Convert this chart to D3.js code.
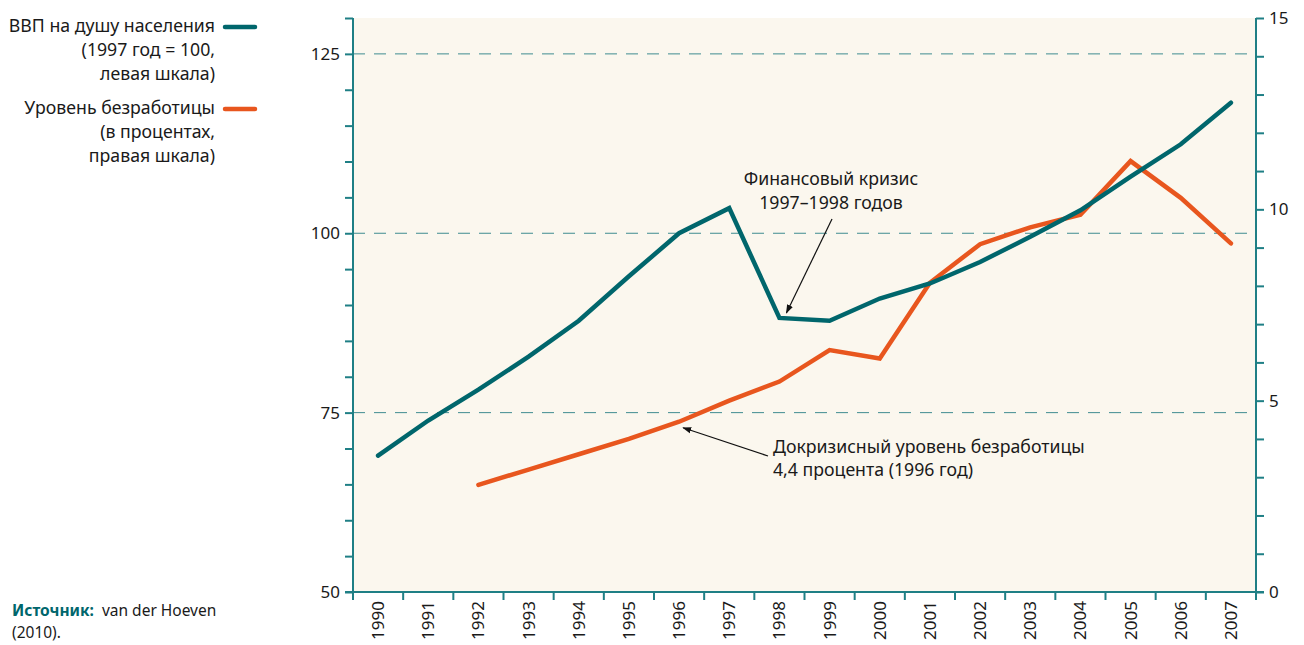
<!DOCTYPE html>
<html><head><meta charset="utf-8">
<script src="https://cdn.jsdelivr.net/npm/d3@7"></script>
<style>
body{margin:0;background:#fff;}
svg text{font-family:"Noto Sans",sans-serif;fill:#1a1a1a;}
</style></head>
<body><svg id="c" width="1304" height="645"></svg>
<script>
const years = [1990,1991,1992,1993,1994,1995,1996,1997,1998,1999,2000,2001,2002,2003,2004,2005,2006,2007];
const gdpPerCapita = [69.0,73.9,78.2,82.8,87.8,94.0,100.0,103.5,88.2,87.8,90.9,93.0,96.0,99.5,103.2,107.9,112.4,118.2];
const unemployment = [null,null,2.80,3.20,3.60,4.00,4.45,5.00,5.50,6.32,6.10,8.08,9.09,9.53,9.86,11.26,10.30,9.11];
const leftTicks = [50,75,100,125];
const rightTicks = [0,5,10,15];
const gridValues = [75,100,125];
const legendGdp = ["ВВП на душу населения","(1997 год = 100,","левая шкала)"];
const legendUnemp = ["Уровень безработицы","(в процентах,","правая шкала)"];
const noteCrisis = ["Финансовый кризис","1997–1998 годов"];
const notePre = ["Докризисный уровень безработицы","4,4 процента (1996 год)"];

const TEAL="#00666c", ORANGE="#e8561e", AX="#1f7f85";
const FS=17.7, TFS=17;
const svg=d3.select("#c");
const L=353,R=1256,T=18,B=592;
const x=d3.scaleBand().domain(years).range([L,R]);
const yL=d3.scaleLinear().domain([50,130]).range([B,T]);
const yR=d3.scaleLinear().domain([0,15]).range([B,T]);

svg.append("defs").append("marker").attr("id","ah").attr("viewBox","0 0 10 10")
  .attr("refX",9).attr("refY",5).attr("markerWidth",9).attr("markerHeight",9)
  .attr("markerUnits","userSpaceOnUse").attr("orient","auto")
  .append("path").attr("d","M0,1.5L10,5L0,8.5Z").attr("fill","#111");

svg.append("rect").attr("x",L).attr("y",T).attr("width",R-L).attr("height",B-T).attr("fill","#fbf7ee");

svg.append("g").selectAll("line").data(gridValues).join("line")
  .attr("x1",L).attr("x2",R).attr("y1",d=>yL(d)).attr("y2",d=>yL(d))
  .attr("stroke","#3f8c90").attr("stroke-width",1).attr("stroke-dasharray","12,9");

const gl=svg.append("g").attr("transform",`translate(${L},0)`)
  .call(d3.axisLeft(yL).tickValues(d3.range(50,131,5)).tickSize(8).tickFormat(d=>leftTicks.includes(d)?d:""));
const gr=svg.append("g").attr("transform",`translate(${R},0)`)
  .call(d3.axisRight(yR).tickValues(d3.range(0,16,1)).tickSize(8).tickFormat(d=>rightTicks.includes(d)?d:""));
const gb=svg.append("g").attr("transform",`translate(0,${B})`)
  .call(d3.axisBottom(x).tickSize(0).tickFormat(d=>d));
gb.append("g").selectAll("line").data(years.concat([null])).join("line")
  .attr("x1",(d,i)=>L+i*x.step()).attr("x2",(d,i)=>L+i*x.step()).attr("y1",0).attr("y2",8).attr("stroke",AX).attr("stroke-width",2);
gb.select(".domain").attr("d",`M${L-8},0H${R+8}`);
[gl,gr,gb].forEach(g=>{
  g.select(".domain").attr("stroke",AX).attr("stroke-width",2);
  g.selectAll(".tick line").attr("stroke",AX).attr("stroke-width",2);
  g.selectAll(".tick text").attr("font-family","Noto Sans").attr("font-size",TFS).attr("fill","#1a1a1a");
});
gl.select(".domain").attr("d",`M0,${T}V${B}`);
gr.select(".domain").attr("d",`M0,${T}V${B}`);
gl.selectAll(".tick text").attr("x",-13);
gr.selectAll(".tick text").attr("x",13);
gb.selectAll(".tick text").attr("transform","rotate(-90)").attr("text-anchor","end")
  .attr("x",-9).attr("y",0).attr("dy","0.35em");

const lineL=d3.line().defined(d=>d[1]!=null).x(d=>x(d[0])+x.bandwidth()/2).y(d=>yL(d[1]));
const lineR=d3.line().defined(d=>d[1]!=null).x(d=>x(d[0])+x.bandwidth()/2).y(d=>yR(d[1]));
svg.append("path").datum(years.map((y,i)=>[y,unemployment[i]])).attr("d",lineR)
  .attr("fill","none").attr("stroke",ORANGE).attr("stroke-width",4.5).attr("stroke-linecap","round").attr("stroke-linejoin","miter");
svg.append("path").datum(years.map((y,i)=>[y,gdpPerCapita[i]])).attr("d",lineL)
  .attr("fill","none").attr("stroke",TEAL).attr("stroke-width",4.5).attr("stroke-linecap","round").attr("stroke-linejoin","miter");

const cx=x(1998)+x.bandwidth()/2, cy=yL(gdpPerCapita[8]);
svg.append("text").attr("text-anchor","middle").attr("font-size",FS)
  .selectAll("tspan").data(noteCrisis).join("tspan").attr("x",831).attr("y",(d,i)=>185+i*24).text(d=>d);
svg.append("line").attr("x1",832).attr("y1",219).attr("x2",cx+7).attr("y2",cy-5)
  .attr("stroke","#111").attr("stroke-width",1.2).attr("marker-end","url(#ah)");
const px=x(1996)+x.bandwidth()/2, py=yR(unemployment[6]);
svg.append("text").attr("font-size",FS)
  .selectAll("tspan").data(notePre).join("tspan").attr("x",773).attr("y",(d,i)=>453+i*23).text(d=>d);
svg.append("line").attr("x1",768).attr("y1",456).attr("x2",px+4).attr("y2",py+6)
  .attr("stroke","#111").attr("stroke-width",1.2).attr("marker-end","url(#ah)");

function legend(lines,y0,ly,color){
  svg.append("text").attr("text-anchor","end").attr("font-size",FS)
    .selectAll("tspan").data(lines).join("tspan").attr("x",215).attr("y",(d,i)=>y0+i*24).text(d=>d);
  svg.append("line").attr("x1",225).attr("x2",255).attr("y1",ly).attr("y2",ly)
    .attr("stroke",color).attr("stroke-width",4.5).attr("stroke-linecap","round");
}
legend(legendGdp,32,27,TEAL);
legend(legendUnemp,114,109,ORANGE);

const s=svg.append("text").attr("x",12).attr("y",616).attr("font-size",15.5);
s.append("tspan").attr("font-weight","bold").style("fill",TEAL).text("Источник:");
s.append("tspan").attr("dx",8).text("van der Hoeven");
svg.append("text").attr("x",12).attr("y",638).attr("font-size",15.5).text("(2010).");
</script></body></html>
